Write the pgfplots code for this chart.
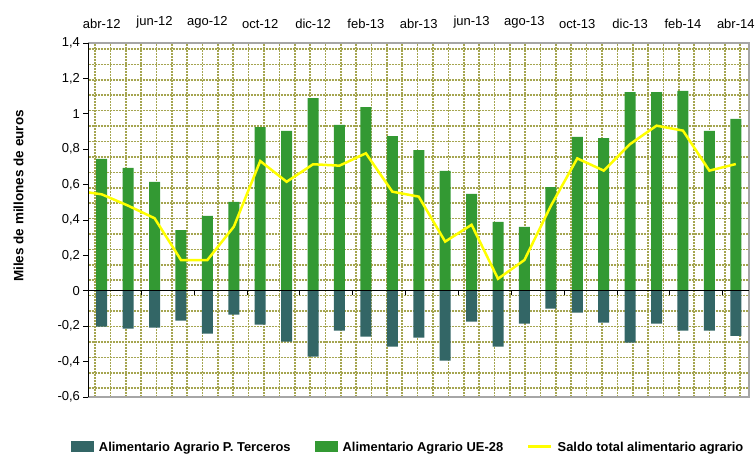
\documentclass[border=0pt]{standalone}
\usepackage{fontspec}
\setmainfont{Liberation Sans}
\usepackage{pgfplots}
\pgfplotsset{compat=1.18}

\definecolor{ueGreen}{HTML}{339933}
\definecolor{terTeal}{HTML}{336666}
\definecolor{saldoYel}{HTML}{FFFF00}
\definecolor{gridOl}{RGB}{165,165,80}

\pgfplotsset{
    frame/.style={at={(88.5pt,56pt)}, anchor=south west,
        scale only axis, width=660.5pt, height=354pt,
        xmin=-0.5, xmax=24.5, ymin=-0.6, ymax=1.4},
}

\begin{document}
\begin{tikzpicture}
\useasboundingbox (0,0) rectangle (755pt,453pt);
% dotted pattern of the plot area
\begin{axis}[frame,
    axis line style={draw=none},
    xtick={-0.254,0.3275,...,24.2},
    ytick={-0.55,-0.4629,...,1.37},
    xticklabels={}, yticklabels={},
    major tick length=0pt,
    xmajorgrids=true, ymajorgrids=true,
    x grid style={gridOl, line width=1.6pt, dash pattern=on 1.6pt off 1.4pt},
    y grid style={gridOl, line width=1.6pt, dash pattern=on 2pt off 1pt},
]
\end{axis}
\begin{axis}[frame,
    axis line style={gray!70, line width=1.2pt},
    xtick={0,2,...,24},
    xticklabels={abr-12,jun-12,ago-12,oct-12,dic-12,feb-13,abr-13,jun-13,ago-13,oct-13,dic-13,feb-14,abr-14},
    xticklabel pos=upper,
    xtick style={draw=none},
    xticklabel style={yshift=11pt},
    ytick={-0.6,-0.4,-0.2,0,0.2,0.4,0.6,0.8,1,1.2,1.4},
    ytick pos=left, ytick align=outside,
    ytick style={black, line width=0.8pt},
    major tick length=5pt,
    /pgf/number format/use comma,
    /pgf/number format/assume math mode=true,
    tick label style={font=\fontsize{13}{15}\selectfont},
    ylabel={Miles de millones de euros},
    ylabel style={font=\bfseries\fontsize{13.5}{16}\selectfont, at={(axis description cs:-0.106,0.568)}, anchor=center},
    legend columns=3,
    legend style={at={(rel axis cs:0.484,-0.142)}, anchor=center, draw=none, fill=none,
        font=\bfseries\fontsize{12.9}{14}\selectfont,
        /tikz/every even column/.append style={column sep=22pt}},
]
\addplot[ybar, bar width=11pt, bar shift=0pt, fill=terTeal, draw=none,
    legend image code/.code={\fill[terTeal] (0pt,-4.5pt) rectangle (23pt,6.5pt); \path (26pt,0pt);}]
coordinates {
(0,-0.203) (1,-0.214) (2,-0.208) (3,-0.169) (4,-0.242) (5,-0.135) (6,-0.191)
(7,-0.287) (8,-0.372) (9,-0.225) (10,-0.259) (11,-0.316) (12,-0.265) (13,-0.395)
(14,-0.174) (15,-0.316) (16,-0.186) (17,-0.101) (18,-0.124) (19,-0.180) (20,-0.293)
(21,-0.186) (22,-0.225) (23,-0.225) (24,-0.254)
};
\addlegendentry{Alimentario Agrario P. Terceros}
\addplot[ybar, bar width=11pt, bar shift=0pt, fill=ueGreen, draw=none,
    legend image code/.code={\fill[ueGreen] (0pt,-4.5pt) rectangle (23pt,6.5pt); \path (26pt,0pt);}]
coordinates {
(0,0.745) (1,0.694) (2,0.615) (3,0.343) (4,0.423) (5,0.502) (6,0.925)
(7,0.903) (8,1.089) (9,0.937) (10,1.038) (11,0.874) (12,0.795) (13,0.677)
(14,0.547) (15,0.389) (16,0.361) (17,0.586) (18,0.869) (19,0.863) (20,1.123)
(21,1.123) (22,1.129) (23,0.903) (24,0.971)
};
\addlegendentry{Alimentario Agrario UE-28}
\addplot[saldoYel, line width=2.5pt, mark=none,
    legend image code/.code={\draw[saldoYel, line width=2.5pt] (0pt,1pt) -- (23pt,1pt); \path (26pt,0pt);}]
coordinates {
(-0.5,0.556) (0,0.545) (1,0.481) (2,0.410) (3,0.174) (4,0.174) (5,0.362) (6,0.733)
(7,0.616) (8,0.715) (9,0.707) (10,0.777) (11,0.560) (12,0.532) (13,0.278)
(14,0.373) (15,0.068) (16,0.174) (17,0.480) (18,0.748) (19,0.679) (20,0.829)
(21,0.933) (22,0.905) (23,0.679) (24,0.716)
};
\addlegendentry{Saldo total alimentario agrario}
\end{axis}
% zero line with its ticks, and the black left axis line
\begin{axis}[frame,
    axis x line=middle, axis y line=left,
    axis line style={-, black, line width=0.8pt},
    xtick={1.5,3.5,...,23.5}, xticklabels={},
    ytick=\empty,
    xtick align=outside,
    major tick length=4pt,
    tick style={black, line width=0.8pt},
]
\end{axis}
\end{tikzpicture}
\end{document}
